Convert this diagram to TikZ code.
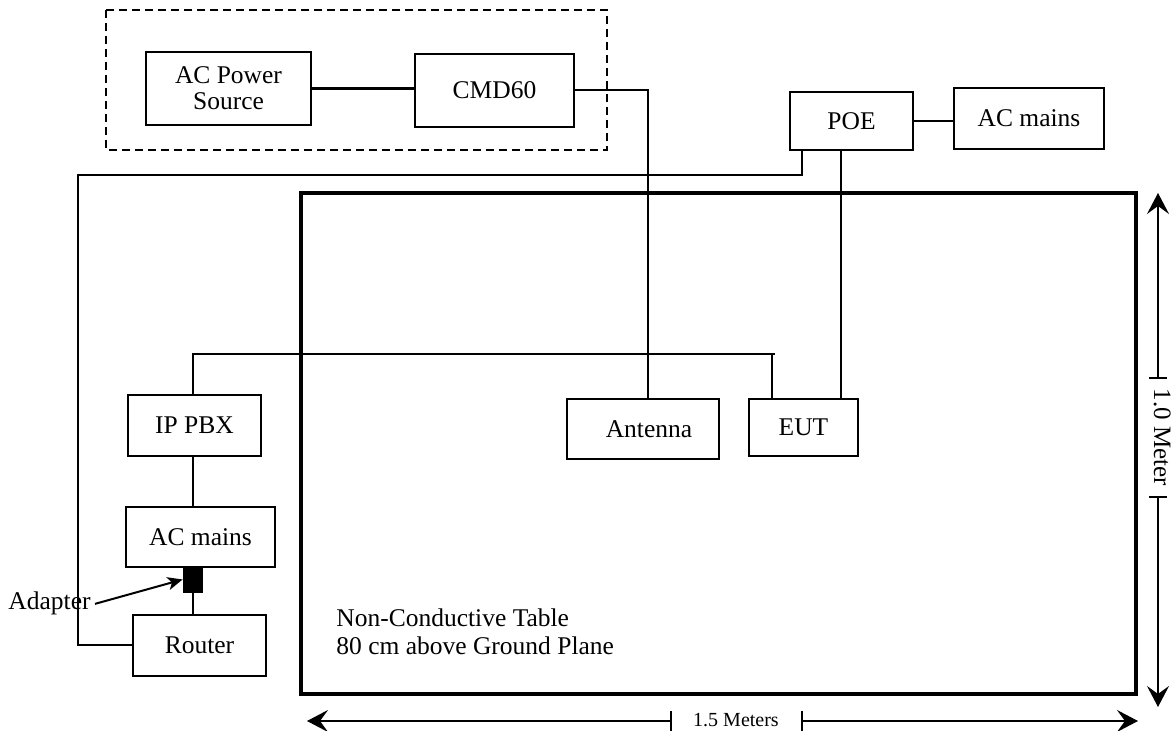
\documentclass[tikz,border=0pt]{standalone}
\usepackage{fontspec}
\setmainfont{Liberation Serif}
\usetikzlibrary{arrows.meta}
\begin{document}
\begin{tikzpicture}[x=0.5pt,y=-0.5pt,
  box/.style={draw, line width=1pt, inner sep=0pt, align=center, font=\fontsize{12.75}{13}\selectfont},
  wire/.style={line width=1pt},
  thickwire/.style={line width=1.6pt},
  dimline/.style={line width=0.7pt},
  dimtip/.style={-{Stealth[length=10.5pt,width=11pt,inset=4pt]}},
  adtip/.style={-{Stealth[length=7.5pt,width=6.5pt,inset=2pt]}},
  lbl/.style={inner sep=0pt, font=\fontsize{12.75}{14}\selectfont},
  dimlbl/.style={inner sep=0pt, font=\fontsize{10}{12}\selectfont}
]
\useasboundingbox (0,0) rectangle (1173,731);

% dashed enclosure
\draw[line width=1pt, dash pattern=on 4pt off 2.5pt] (106,10) rectangle (607,150);

% table
\draw[line width=2pt] (301,193) rectangle (1136,694);

% boxes
\node[box, minimum width=82.5pt, minimum height=36.5pt] (acps) at (228.5,88.5) {AC Power\\Source};
\node[box, minimum width=79.5pt, minimum height=36.5pt] (cmd) at (494.5,90.5) {CMD60};
\node[box, minimum width=61.5pt, minimum height=29pt] (poe) at (851.5,121) {POE};
\node[box, minimum width=75pt, minimum height=30.5pt] (acr) at (1029,118.5) {AC mains};
\node[box, minimum width=76pt, minimum height=30pt] (ant) at (643,429) {\hspace{6pt}Antenna};
\node[box, minimum width=54.5pt, minimum height=28.5pt] (eut) at (803.5,427.5) {EUT};
\node[box, minimum width=66.5pt, minimum height=30.5pt] (pbx) at (194.5,425.5) {IP PBX};
\node[box, minimum width=74.5pt, minimum height=30pt] (acl) at (200.5,537) {AC mains};
\node[draw, fill=black, inner sep=0pt, minimum width=9.5pt, minimum height=12.5pt] (adp) at (192.5,579.5) {};
\node[box, minimum width=66.5pt, minimum height=30.5pt] (rtr) at (199.5,645.5) {Router};

% labels
\node[lbl, anchor=base east] (adl) at (91,610) {Adapter};
\node[lbl, anchor=north west, align=left] (tbl) at (336,608) {Non-Conductive Table\\80 cm above Ground Plane};

% connector coordinates
\coordinate (antTop) at (648,399);
\coordinate (poeA) at (802,150);
\coordinate (poeB) at (802,175);
\coordinate (poeC) at (78,175);
\coordinate (eutR) at (841,399);
\coordinate (busL) at (193,354);
\coordinate (busR) at (775,354);
\coordinate (eutL) at (772,399);

% connectors
\draw[thickwire] (acps.east) -- (acps.east -| cmd.west);
\draw[wire] (cmd.east) -| (antTop);
\draw[wire] (poe.east) -- (poe.east -| acr.west);
\draw[wire] (poeA) -- (poeB) -- (poeC) |- (rtr.west);
\draw[wire] (eutR |- poe.south) -- (eutR);
\draw[wire] (pbx.north -| busL) -- (busL) -- (busR);
\draw[wire] (eutL |- busR) -- (eutL);
\draw[wire] (pbx.south -| busL) -- (acl.north -| busL);
\draw[wire] (adp.south -| busL) -- (rtr.north -| busL);
\draw[wire, adtip] ([xshift=2pt]adl.east) -- (adp.west);

% horizontal dimension
\coordinate (hL) at (307,721);
\coordinate (hR) at (1138,721);
\coordinate (ht1) at (671,721);
\coordinate (ht2) at (802,721);
\draw[dimline, dimtip] (ht1) -- (hL);
\draw[dimline, dimtip] (ht2) -- (hR);
\draw[dimline] ([yshift=5pt]ht1) -- ([yshift=-5pt]ht1);
\draw[dimline] ([yshift=5pt]ht2) -- ([yshift=-5pt]ht2);
\node[dimlbl, anchor=base] (hl) at (736,726) {1.5 Meters};

% vertical dimension
\coordinate (vT) at (1158,193);
\coordinate (vB) at (1158,707);
\coordinate (vt1) at (1158,378);
\coordinate (vt2) at (1158,497);
\draw[dimline, dimtip] (vt1) -- (vT);
\draw[dimline, dimtip] (vt2) -- (vB);
\draw[dimline] ([xshift=-4.5pt]vt1) -- ([xshift=4.5pt]vt1);
\draw[dimline] ([xshift=-4.5pt]vt2) -- ([xshift=4.5pt]vt2);
\node[inner sep=0pt, font=\fontsize{12.5}{14}\selectfont, rotate=-90, anchor=base] (vl) at (1154,437.5) {1.0 Meter};
\end{tikzpicture}
\end{document}
